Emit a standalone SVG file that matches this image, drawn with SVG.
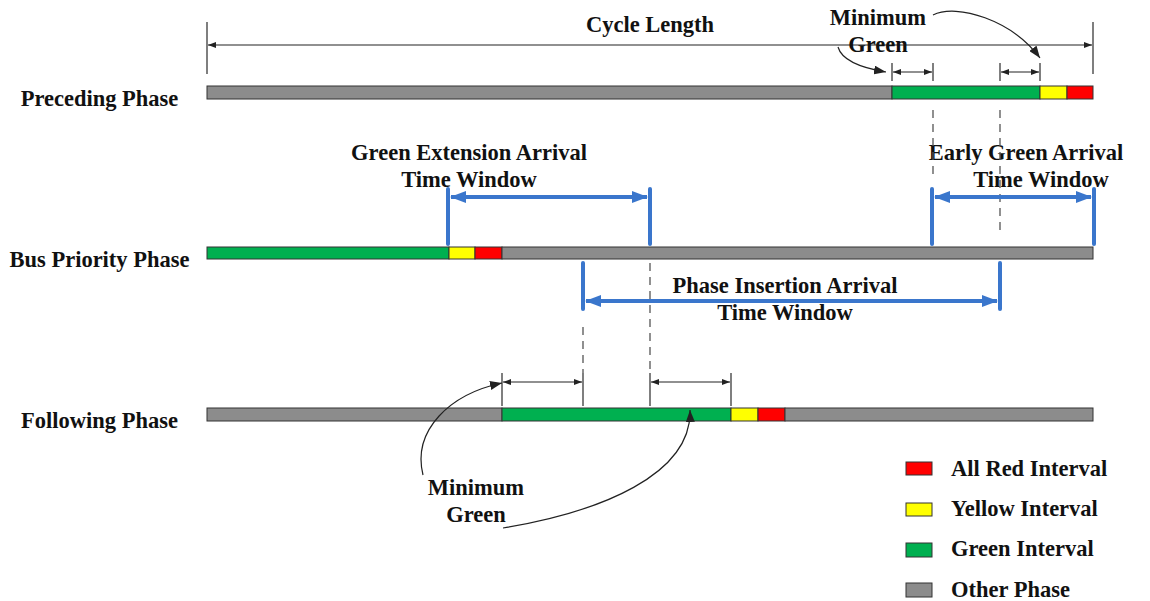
<svg xmlns="http://www.w3.org/2000/svg" width="1150" height="601" viewBox="0 0 1150 601">
<style>
text{font-family:"Liberation Serif","Times New Roman",serif;font-weight:bold;font-size:22.5px;fill:#111}
.m{text-anchor:middle}
.bar{stroke:#333;stroke-width:1}
.gy{fill:#8c8c8c}.gn{fill:#00b050}.yl{fill:#ffff00}.rd{fill:#ff0000}
.thin{stroke:#222;stroke-width:1.2;fill:none}
.tick{stroke:#555;stroke-width:1.5}
.dash{stroke:#555;stroke-width:1.3;stroke-dasharray:8 6}
.blue{stroke:#3a76cc;stroke-width:4;stroke-linecap:round;fill:none}
.bh{stroke:#3a76cc;stroke-width:4;fill:none}
</style>
<defs>
<marker id="sa" markerUnits="userSpaceOnUse" markerWidth="8" markerHeight="6" refX="8" refY="3" orient="auto-start-reverse"><path d="M0,0 L8,3 L0,6 z" fill="#222"/></marker>
<marker id="ca" markerUnits="userSpaceOnUse" markerWidth="12" markerHeight="9" refX="12" refY="4.5" orient="auto"><path d="M0,0 L12,4.5 L0,9 z" fill="#222"/></marker>
<marker id="ba" markerUnits="userSpaceOnUse" markerWidth="16" markerHeight="12" refX="15" refY="6" orient="auto-start-reverse"><path d="M0,0 L16,6 L0,12 z" fill="#3a76cc"/></marker>
</defs>
<rect width="1150" height="601" fill="#fff"/>

<g id="labels">
<text class="m" x="99.5" y="106">Preceding Phase</text>
<text class="m" x="99.5" y="267">Bus Priority Phase</text>
<text class="m" x="99.5" y="428">Following Phase</text>
</g>

<g id="preceding-phase">
<rect class="bar gy" x="207" y="86" width="685" height="13"/>
<rect class="bar gn" x="892" y="86" width="148" height="13"/>
<rect class="bar yl" x="1040" y="86" width="27" height="13"/>
<rect class="bar rd" x="1067" y="86" width="26" height="13"/>
</g>

<g id="bus-priority-phase">
<rect class="bar gn" x="207" y="247" width="242" height="12"/>
<rect class="bar yl" x="449" y="247" width="26" height="12"/>
<rect class="bar rd" x="475" y="247" width="27" height="12"/>
<rect class="bar gy" x="502" y="247" width="591" height="12"/>
</g>

<g id="following-phase">
<rect class="bar gy" x="207" y="408" width="295" height="13"/>
<rect class="bar gn" x="502" y="408" width="229" height="13"/>
<rect class="bar yl" x="731" y="408" width="27" height="13"/>
<rect class="bar rd" x="758" y="408" width="27" height="13"/>
<rect class="bar gy" x="785" y="408" width="308" height="13"/>
</g>

<g id="cycle-length">
<line class="tick" x1="207" y1="22" x2="207" y2="74"/>
<line class="tick" x1="1093" y1="22" x2="1093" y2="74"/>
<line class="thin" x1="208" y1="45" x2="1092" y2="45" marker-start="url(#sa)" marker-end="url(#sa)"/>
<text class="m" x="650" y="32">Cycle Length</text>
</g>

<g id="min-green-top">
<text class="m" x="878" y="25">Minimum</text>
<text class="m" x="878" y="52">Green</text>
</g>

<g id="min-green-bottom">
<text class="m" x="476" y="495">Minimum</text>
<text class="m" x="476" y="522">Green</text>
</g>

<g id="green-extension-window">
<text class="m" x="469" y="160">Green Extension Arrival</text>
<text class="m" x="469" y="187">Time Window</text>
</g>

<g id="early-green-window">
<text class="m" x="1026" y="160">Early Green Arrival</text>
<text class="m" x="1041" y="187">Time Window</text>
</g>

<g id="phase-insertion-window">
<text class="m" x="785" y="293">Phase Insertion Arrival</text>
<text class="m" x="785" y="320">Time Window</text>
</g>

<g id="legend">
<rect class="bar rd" x="906" y="462" width="26" height="13"/>
<text x="951" y="476">All Red Interval</text>
<rect class="bar yl" x="906" y="503" width="26" height="13"/>
<text x="951" y="516">Yellow Interval</text>
<rect class="bar gn" x="906" y="543" width="26" height="14"/>
<text x="951" y="556">Green Interval</text>
<rect class="bar gy" x="906" y="583" width="26" height="14"/>
<text x="951" y="597">Other Phase</text>
</g>

<g id="connectors">
<line class="dash" x1="933" y1="110" x2="933" y2="180"/>
<line class="dash" x1="1000" y1="110" x2="1000" y2="234"/>
<line class="dash" x1="650" y1="263" x2="650" y2="373"/>
<line class="dash" x1="583" y1="327" x2="583" y2="373"/>

<line class="tick" x1="892" y1="63" x2="892" y2="81"/>
<line class="tick" x1="933" y1="63" x2="933" y2="81"/>
<line class="tick" x1="1000" y1="63" x2="1000" y2="81"/>
<line class="tick" x1="1040" y1="63" x2="1040" y2="81"/>
<line class="thin" x1="893" y1="72" x2="932" y2="72" marker-start="url(#sa)" marker-end="url(#sa)"/>
<line class="thin" x1="1001" y1="72" x2="1039" y2="72" marker-start="url(#sa)" marker-end="url(#sa)"/>
<path class="thin" d="M838,47 C842,61 862,68 886,72" marker-end="url(#ca)"/>
<path class="thin" d="M933,15 C957,3 1012,20 1040,58" marker-end="url(#ca)"/>

<line class="tick" x1="502" y1="373" x2="502" y2="406"/>
<line class="tick" x1="583" y1="373" x2="583" y2="406"/>
<line class="tick" x1="650" y1="373" x2="650" y2="406"/>
<line class="tick" x1="731" y1="373" x2="731" y2="406"/>
<line class="thin" x1="503" y1="382" x2="582" y2="382" marker-start="url(#sa)" marker-end="url(#sa)"/>
<line class="thin" x1="651" y1="382" x2="730" y2="382" marker-start="url(#sa)" marker-end="url(#sa)"/>
<path class="thin" d="M423,475 C412,430 450,394 502,383" marker-end="url(#ca)"/>
<path class="thin" d="M503,528 C600,512 692,475 690,410" marker-end="url(#ca)"/>

<line class="blue" x1="448" y1="189" x2="448" y2="244"/>
<line class="blue" x1="650" y1="189" x2="650" y2="244"/>
<line class="bh" x1="451" y1="197" x2="647" y2="197" marker-start="url(#ba)" marker-end="url(#ba)"/>

<line class="blue" x1="932" y1="189" x2="932" y2="244"/>
<line class="blue" x1="1094" y1="189" x2="1094" y2="244"/>
<line class="bh" x1="935" y1="197" x2="1091" y2="197" marker-start="url(#ba)" marker-end="url(#ba)"/>

<line class="blue" x1="583" y1="263" x2="583" y2="309"/>
<line class="blue" x1="1000" y1="263" x2="1000" y2="309"/>
<line class="bh" x1="586" y1="301" x2="997" y2="301" marker-start="url(#ba)" marker-end="url(#ba)"/>
</g>
</svg>
